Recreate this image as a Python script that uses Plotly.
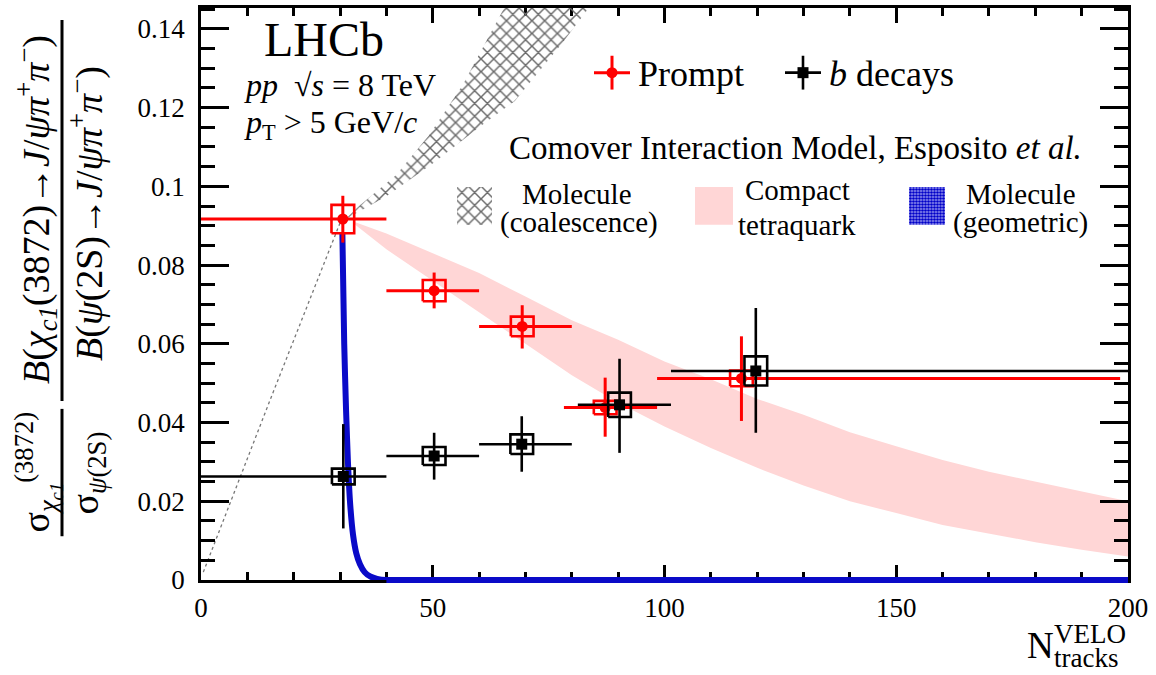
import plotly.graph_objects as go

# ---------------- data ----------------
prompt_x = [30.6, 50.3, 69.3, 87.2, 116.6]
prompt_x_lo = [0.0, 40.0, 60.0, 78.3, 98.4]
prompt_x_hi = [40.0, 60.0, 80.0, 98.4, 198.3]
prompt_y = [0.0917, 0.0735, 0.0644, 0.0438, 0.0512]
prompt_stat_up = [0.0059, 0.0046, 0.0054, 0.0076, 0.0107]
prompt_stat_dn = [0.0060, 0.0045, 0.0056, 0.0074, 0.0108]
prompt_syst = [0.0036, 0.0027, 0.0025, 0.0017, 0.0020]

bdec_x = [30.7, 50.3, 69.2, 90.3, 119.7]
bdec_x_lo = [0.0, 40.0, 60.0, 81.3, 101.4]
bdec_x_hi = [40.0, 60.0, 80.0, 101.4, 200.0]
bdec_y = [0.0263, 0.0315, 0.0345, 0.0445, 0.0531]
bdec_stat_up = [0.0133, 0.0059, 0.0071, 0.0117, 0.0160]
bdec_stat_dn = [0.0132, 0.0060, 0.0070, 0.0122, 0.0157]
bdec_syst = [0.0020, 0.0023, 0.0025, 0.0031, 0.0037]

# Molecule (coalescence) band edges
coal_up_x = [31.0, 34.1, 42.1, 49.2, 56.4, 61.6, 65.4, 67.0]
coal_up_y = [0.0915, 0.0950, 0.1029, 0.1130, 0.1256, 0.1372, 0.1453, 0.1500]
coal_lo_x = [31.0, 40.0, 50.0, 60.0, 67.7, 78.0, 83.2, 85.5]
coal_lo_y = [0.0915, 0.0975, 0.1058, 0.1150, 0.1217, 0.1365, 0.1446, 0.1490]
# dotted continuation of coalescence model
coal_dot_x = [0.5, 15.0, 30.6]
coal_dot_y = [0.0020, 0.0460, 0.0925]

# Compact tetraquark band
tetra_x = [33, 40, 50, 60, 70, 80, 90, 100, 110, 120, 130, 140, 150, 160, 170, 180, 190, 200]
tetra_up = [0.0910, 0.0880, 0.0830, 0.0780, 0.0720, 0.0660, 0.0610, 0.0555, 0.0510,
            0.0460, 0.0420, 0.0375, 0.0340, 0.0305, 0.0275, 0.0250, 0.0225, 0.0200]
tetra_lo = [0.0905, 0.0840, 0.0760, 0.0680, 0.0600, 0.0520, 0.0450, 0.0390, 0.0335,
            0.0285, 0.0240, 0.0200, 0.0170, 0.0140, 0.0118, 0.0096, 0.0077, 0.0060]

# Molecule (geometric) curve
geom_x = [30.5, 30.9, 31.3, 31.7, 32.2, 32.8, 33.5, 34.3, 35.3, 36.5, 38.0, 40.0, 200.0]
geom_y = [0.0880, 0.0600, 0.0430, 0.0300, 0.0190, 0.0115, 0.0068, 0.0040, 0.0020,
          0.0009, 0.0003, 0.0, 0.0]

x_tick_vals = [0, 50, 100, 150, 200]
x_tick_text = ["0", "50", "100", "150", "200"]
y_tick_vals = [0, 0.02, 0.04, 0.06, 0.08, 0.10, 0.12, 0.14]
y_tick_text = ["0", "0.02", "0.04", "0.06", "0.08", "0.1", "0.12", "0.14"]

# ---------------- layout constants ----------------
W, H = 1156, 675
L, R, T, B = 201, 1128, 5, 580
FONT = "Liberation Serif"
RED = "#ff0000"
BLUE = "#0a0ac8"
BOX_HW = 2.45  # half width of syst boxes (x units)


def paper(px, py):
    return (px - L) / (R - L), (B - py) / (B - T)


def boxes(xs, ys, ss):
    bx, by = [], []
    for xi, yi, si in zip(xs, ys, ss):
        bx += [xi - BOX_HW, xi + BOX_HW, xi + BOX_HW, xi - BOX_HW, xi - BOX_HW, None]
        by += [yi - si, yi - si, yi + si, yi + si, yi - si, None]
    return bx, by


HATCH = dict(shape="x", fgcolor="#6a6a6a", bgcolor="rgba(0,0,0,0)",
             size=9, solidity=0.3, fillmode="replace")
PINK = "#ffd6d6"

fig = go.Figure()

# compact tetraquark band
fig.add_trace(go.Scatter(x=tetra_x + tetra_x[::-1], y=tetra_up + tetra_lo[::-1],
                         fill="toself", fillcolor=PINK, line=dict(width=0),
                         mode="lines", hoverinfo="skip", showlegend=False))
# coalescence band
fig.add_trace(go.Scatter(x=coal_up_x + coal_lo_x[::-1], y=coal_up_y + coal_lo_y[::-1],
                         fill="toself", fillcolor="rgba(0,0,0,0)", fillpattern=HATCH,
                         line=dict(width=0), mode="lines", hoverinfo="skip", showlegend=False))
fig.add_trace(go.Scatter(x=coal_dot_x, y=coal_dot_y, mode="lines",
                         line=dict(color="#777777", width=1.3, dash="dot"),
                         hoverinfo="skip", showlegend=False))
# geometric curve
fig.add_trace(go.Scatter(x=geom_x, y=geom_y, mode="lines",
                         line=dict(color=BLUE, width=6, shape="spline", smoothing=0.6),
                         hoverinfo="skip", showlegend=False))

# prompt
bx, by = boxes(prompt_x, prompt_y, prompt_syst)
fig.add_trace(go.Scatter(x=bx, y=by, mode="lines", line=dict(color=RED, width=2.6),
                         hoverinfo="skip", showlegend=False))
fig.add_trace(go.Scatter(
    x=prompt_x, y=prompt_y, mode="markers",
    marker=dict(symbol="circle", size=11, color=RED),
    error_x=dict(type="data", array=[h - x for h, x in zip(prompt_x_hi, prompt_x)],
                 arrayminus=[x - l for l, x in zip(prompt_x_lo, prompt_x)],
                 color=RED, thickness=3, width=0),
    error_y=dict(type="data", array=prompt_stat_up, arrayminus=prompt_stat_dn,
                 color=RED, thickness=3, width=0),
    showlegend=False))

# b decays
bx, by = boxes(bdec_x, bdec_y, bdec_syst)
fig.add_trace(go.Scatter(x=bx, y=by, mode="lines", line=dict(color="black", width=2.6),
                         hoverinfo="skip", showlegend=False))
fig.add_trace(go.Scatter(
    x=bdec_x, y=bdec_y, mode="markers",
    marker=dict(symbol="square", size=11, color="black"),
    error_x=dict(type="data", array=[h - x for h, x in zip(bdec_x_hi, bdec_x)],
                 arrayminus=[x - l for l, x in zip(bdec_x_lo, bdec_x)],
                 color="black", thickness=2.6, width=0),
    error_y=dict(type="data", array=bdec_stat_up, arrayminus=bdec_stat_dn,
                 color="black", thickness=2.6, width=0),
    showlegend=False))

# ---------------- hand-made legend on a pixel-space overlay axis ----------------
swatches = {
    "coal": (457, 185, 492, 223),
    "tetra": (695, 185, 733, 223),
    "geom": (909, 185, 945, 223),
}


def rect(k):
    x0, y0, x1, y1 = swatches[k]
    return [x0, x1, x1, x0, x0], [y0, y0, y1, y1, y0]


rx, ry = rect("coal")
fig.add_trace(go.Scatter(x=rx, y=ry, xaxis="x2", yaxis="y2", fill="toself",
                         fillcolor="rgba(0,0,0,0)", fillpattern=HATCH,
                         line=dict(width=0), mode="lines", hoverinfo="skip", showlegend=False))
rx, ry = rect("tetra")
fig.add_trace(go.Scatter(x=rx, y=ry, xaxis="x2", yaxis="y2", fill="toself",
                         fillcolor=PINK, line=dict(width=0), mode="lines",
                         hoverinfo="skip", showlegend=False))
rx, ry = rect("geom")
fig.add_trace(go.Scatter(x=rx, y=ry, xaxis="x2", yaxis="y2", fill="toself",
                         fillcolor="#4a4ae0",
                         fillpattern=dict(shape=".", fgcolor="#0000c8", bgcolor="#9a9af0",
                                          size=3, solidity=0.6, fillmode="replace"),
                         line=dict(width=0), mode="lines", hoverinfo="skip", showlegend=False))
# legend markers
fig.add_trace(go.Scatter(x=[612], y=[70], xaxis="x2", yaxis="y2", mode="markers",
                         marker=dict(symbol="circle", size=11, color=RED),
                         error_x=dict(type="constant", value=18, color=RED, thickness=3, width=0),
                         error_y=dict(type="constant", value=17, color=RED, thickness=3, width=0),
                         hoverinfo="skip", showlegend=False))
fig.add_trace(go.Scatter(x=[803], y=[70], xaxis="x2", yaxis="y2", mode="markers",
                         marker=dict(symbol="square", size=11, color="black"),
                         error_x=dict(type="constant", value=18, color="black", thickness=2.6, width=0),
                         error_y=dict(type="constant", value=17, color="black", thickness=2.6, width=0),
                         hoverinfo="skip", showlegend=False))

# ---------------- annotations ----------------
ann = []


def text(px, py, s, size, xanchor="center", yanchor="middle", angle=0):
    x, y = paper(px, py)
    ann.append(dict(x=x, y=y, xref="paper", yref="paper", text=s, showarrow=False,
                    xanchor=xanchor, yanchor=yanchor, textangle=angle,
                    font=dict(family=FONT, size=size, color="black")))


text(324, 37, "LHCb", 48)
text(242, 82, "<i>pp</i>  √<i>s</i> = 8 TeV", 32, xanchor="left")
text(242, 122, "<i>p</i><sub>T</sub> > 5 GeV/<i>c</i>", 32, xanchor="left")

text(636, 71, "Prompt", 36, xanchor="left")
text(827, 71, "<i>b</i> decays", 36, xanchor="left")
text(1084, 146, "Comover Interaction Model, Esposito <i>et al.</i>", 33, xanchor="right")
text(577, 192, "Molecule", 29)
text(579, 221, "(coalescence)", 29)
text(797, 188, "Compact", 29)
text(797, 223, "tetraquark", 29)
text(1021, 192, "Molecule", 29)
text(1020, 221, "(geometric)", 29)

# x title
text(1040, 646, "N", 37)
text(1052, 634, "VELO", 27, xanchor="left")
text(1052, 658, "tracks", 27, xanchor="left")

# y title (rotated)
text(36, 208, "<i>B</i>(<i>χ</i><sub><i>c1</i></sub>(3872)→<i>J</i>/<i>ψπ</i><sup>+</sup><i>π</i><sup>−</sup>)",
     38, angle=-90)
text(87, 212, "<i>B</i>(<i>ψ</i>(2S)→<i>J</i>/<i>ψπ</i><sup>+</sup><i>π</i><sup>−</sup>)", 38, angle=-90)
text(38, 472, "σ<sub><i>χ</i><sub><i>c1</i></sub></sub><sup>(3872)</sup>", 38, angle=-90)
text(88, 473, "σ<sub><i>ψ</i>(2S)</sub>", 38, angle=-90)

shapes = []
for (px, y0, y1) in [(62, 17, 400), (62, 408, 536)]:
    xa, ya0 = paper(px, y0)
    _, ya1 = paper(px, y1)
    shapes.append(dict(type="line", xref="paper", yref="paper", x0=xa, x1=xa, y0=ya0, y1=ya1,
                       line=dict(color="black", width=3)))

# full-thickness blue along the axis where the geometric curve sits at zero
zero_x = [gx for gx, gy in zip(geom_x, geom_y) if gy == 0]
shapes.append(dict(type="line", xref="x", yref="paper", x0=min(zero_x), x1=max(zero_x),
                   y0=0, y1=0, layer="above", line=dict(color=BLUE, width=6)))

axis_common = dict(showline=True, linecolor="black", linewidth=2.5, mirror="allticks",
                   ticks="inside", tickwidth=2.5, tickcolor="black", showgrid=False,
                   zeroline=False, tickfont=dict(family=FONT, size=27, color="black"))

fig.update_layout(
    width=W, height=H,
    margin=dict(l=L, r=W - R, t=T, b=H - B),
    paper_bgcolor="white", plot_bgcolor="white",
    font=dict(family=FONT),
    xaxis=dict(range=[0, 200], tickmode="array", tickvals=x_tick_vals, ticktext=x_tick_text,
               ticklen=15, ticklabelstandoff=2,
               minor=dict(tickmode="linear", tick0=0, dtick=10, ticklen=8, tickwidth=2.5,
                          ticks="inside", tickcolor="black"),
               layer="below traces", **axis_common),
    yaxis=dict(range=[0, 0.1453], tickmode="array", tickvals=y_tick_vals, ticktext=y_tick_text,
               ticklen=28, ticklabelstandoff=8,
               minor=dict(tickmode="linear", tick0=0, dtick=0.005, ticklen=14, tickwidth=2.5,
                          ticks="inside", tickcolor="black"),
               **axis_common),
    xaxis2=dict(overlaying="x", range=[L, R], visible=False, anchor="y2"),
    yaxis2=dict(overlaying="y", range=[B, T], visible=False, anchor="x2"),
    annotations=ann, shapes=shapes,
    showlegend=False,
)

fig.write_html("out.html", config={"displayModeBar": False},
               post_script="document.body.style.margin='0px';")
